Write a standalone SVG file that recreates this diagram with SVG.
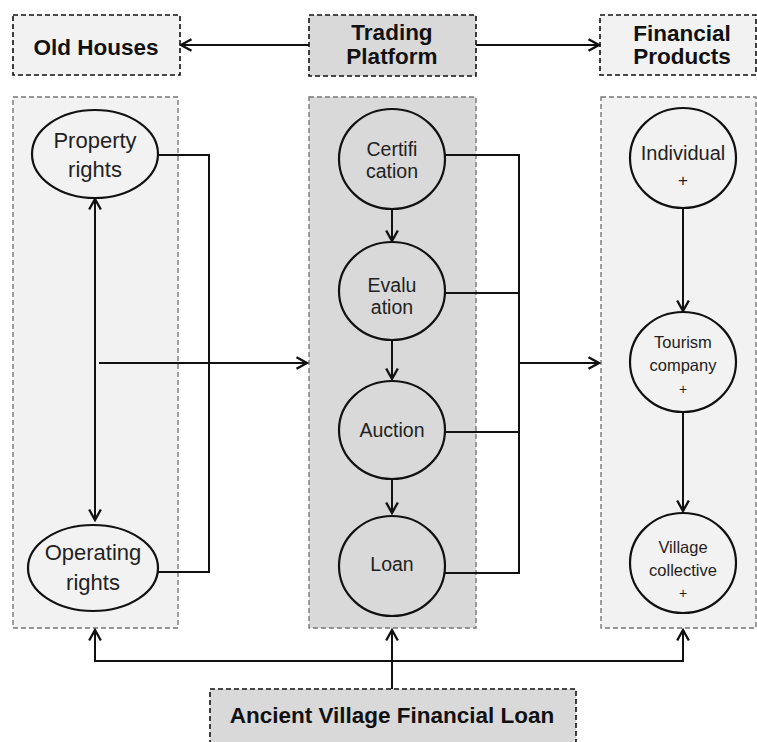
<svg xmlns="http://www.w3.org/2000/svg" width="757" height="742" viewBox="0 0 757 742">
<style>
.light{fill:#f2f2f2}
.dark{fill:#d9d9d9}
.hdr{stroke:#111;stroke-width:1.6;stroke-dasharray:5 3}
.pnl{stroke:#777;stroke-width:1.4;stroke-dasharray:5 3}
.nd{stroke:#111;stroke-width:2.2}
.b{font-family:"Liberation Sans",Arial,sans-serif;font-weight:bold;font-size:22.5px;fill:#111;text-anchor:middle}
.t{font-family:"Liberation Sans",Arial,sans-serif;fill:#222;text-anchor:middle}
.c{fill:none;stroke:#111;stroke-width:2}
</style>
<defs>
<marker id="ah" markerUnits="userSpaceOnUse" markerWidth="14" markerHeight="14" refX="10" refY="6" orient="auto-start-reverse" viewBox="0 0 12 12">
<path d="M1,1 L10,6 L1,11" fill="none" stroke="#111" stroke-width="2"/>
</marker>
</defs>

<g id="old-houses-header"><rect class="light hdr" x="13" y="15" width="167" height="60"/><text class="b" x="96" y="55">Old Houses</text></g>
<g id="trading-platform-header"><rect class="dark hdr" x="309" y="15" width="167" height="61"/><text class="b" x="392" y="40">Trading</text><text class="b" x="392" y="64">Platform</text></g>
<g id="financial-products-header"><rect class="light hdr" x="600" y="15" width="156" height="60"/><text class="b" x="682" y="41">Financial</text><text class="b" x="682" y="64">Products</text></g>

<g id="old-houses-panel"><rect class="light pnl" x="13" y="97" width="165" height="531"/></g>
<g id="trading-platform-panel"><rect class="dark pnl" x="309" y="97" width="167" height="531"/></g>
<g id="financial-products-panel"><rect class="light pnl" x="601" y="97" width="155" height="531"/></g>

<g id="ancient-village-financial-loan"><rect class="dark hdr" x="210" y="689" width="366" height="70"/><text class="b" x="392" y="723">Ancient Village Financial Loan</text></g>

<g id="connectors">
<path class="c" d="M309,45 H181" marker-end="url(#ah)"/>
<path class="c" d="M476,45 H599" marker-end="url(#ah)"/>
<path class="c" d="M158,155 H209 V572 H158"/>
<path class="c" d="M95,199 V520" marker-start="url(#ah)" marker-end="url(#ah)"/>
<path class="c" d="M99,363 H307" marker-end="url(#ah)"/>
<path class="c" d="M445,155 H519 V573 H445"/>
<path class="c" d="M445,293 H519"/>
<path class="c" d="M445,432 H519"/>
<path class="c" d="M519,363 H599" marker-end="url(#ah)"/>
<path class="c" d="M392,209 V241" marker-end="url(#ah)"/>
<path class="c" d="M392,340 V379" marker-end="url(#ah)"/>
<path class="c" d="M392,480 V513" marker-end="url(#ah)"/>
<path class="c" d="M683,208 V311" marker-end="url(#ah)"/>
<path class="c" d="M683,412 V511" marker-end="url(#ah)"/>
<path class="c" d="M95,630 V661 H683 V630" marker-start="url(#ah)" marker-end="url(#ah)"/>
<path class="c" d="M392,689 V630" marker-end="url(#ah)"/>
</g>

<g id="property-rights"><ellipse class="light nd" cx="95" cy="154" rx="63" ry="44"/><text class="t" x="95" y="148" font-size="22">Property</text><text class="t" x="95" y="177" font-size="22">rights</text></g>
<g id="operating-rights"><ellipse class="light nd" cx="93" cy="568" rx="65" ry="43"/><text class="t" x="93" y="560" font-size="22">Operating</text><text class="t" x="93" y="590" font-size="22">rights</text></g>

<g id="certification"><ellipse class="dark nd" cx="392" cy="159" rx="53" ry="50"/><text class="t" x="392" y="156" font-size="19.5">Certifi</text><text class="t" x="392" y="178" font-size="19.5">cation</text></g>
<g id="evaluation"><ellipse class="dark nd" cx="392" cy="291" rx="53" ry="49"/><text class="t" x="392" y="292" font-size="19.5">Evalu</text><text class="t" x="392" y="314" font-size="19.5">ation</text></g>
<g id="auction"><ellipse class="dark nd" cx="392" cy="430" rx="53" ry="49"/><text class="t" x="392" y="437" font-size="19.5">Auction</text></g>
<g id="loan"><ellipse class="dark nd" cx="392" cy="566" rx="53" ry="50"/><text class="t" x="392" y="571" font-size="19.5">Loan</text></g>

<g id="individual"><ellipse class="light nd" cx="683" cy="158" rx="53" ry="50"/><text class="t" x="683" y="160" font-size="20">Individual</text><text class="t" x="683" y="186" font-size="17">+</text></g>
<g id="tourism-company"><ellipse class="light nd" cx="683" cy="362" rx="53" ry="50"/><text class="t" x="683" y="348" font-size="16.5">Tourism</text><text class="t" x="683" y="371" font-size="16.5">company</text><text class="t" x="683" y="394" font-size="14">+</text></g>
<g id="village-collective"><ellipse class="light nd" cx="683" cy="563" rx="53" ry="50"/><text class="t" x="683" y="553" font-size="16.5">Village</text><text class="t" x="683" y="576" font-size="16.5">collective</text><text class="t" x="683" y="598" font-size="14">+</text></g>
</svg>
